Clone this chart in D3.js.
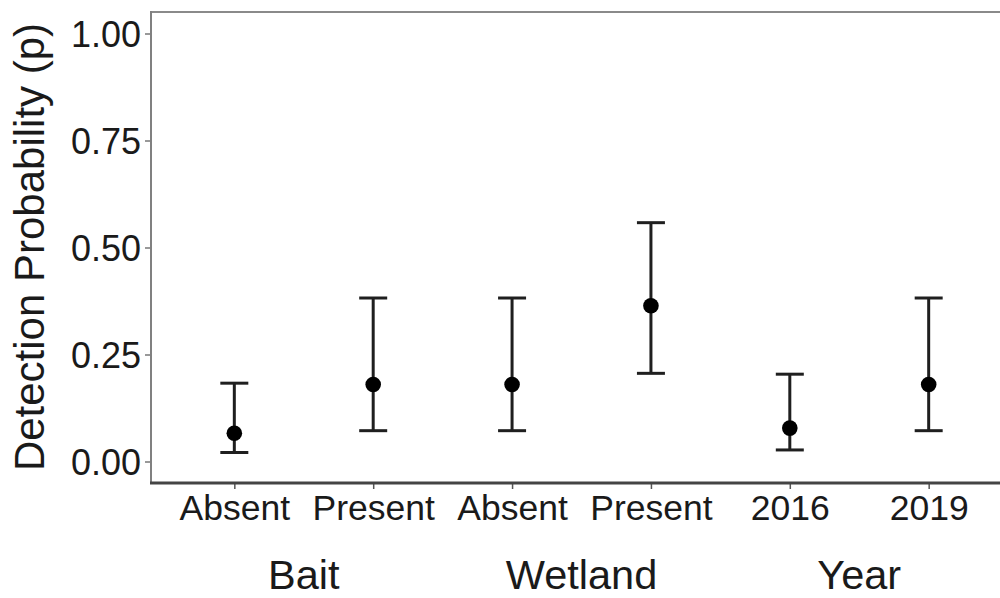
<!DOCTYPE html>
<html>
<head>
<meta charset="utf-8">
<script src="https://cdn.jsdelivr.net/npm/d3@7"></script>
<style>
  body { margin: 0; background: #fff; }
  svg { display: block; font-family: "Liberation Sans", Arial, sans-serif; }
</style>
</head>
<body>
<div id="chart"></div>
<script>
// data
var categories = ["Bait Absent", "Bait Present", "Wetland Absent", "Wetland Present", "Year 2016", "Year 2019"];
var tickLabels = ["Absent", "Present", "Absent", "Present", "2016", "2019"];
var groups = ["Bait", "Wetland", "Year"];
var groupOf = ["Bait", "Bait", "Wetland", "Wetland", "Year", "Year"];
var estimate = [0.066, 0.180, 0.180, 0.364, 0.078, 0.180];
var lower = [0.021, 0.072, 0.072, 0.206, 0.027, 0.072];
var upper = [0.183, 0.382, 0.382, 0.558, 0.204, 0.382];
var yTicks = [0, 0.25, 0.5, 0.75, 1];

var width = 1000, height = 598;
var panel = { left: 151, top: 12, right: 1012, bottom: 483 };

var svg = d3.select('#chart').append('svg')
  .attr('width', width)
  .attr('height', height);

// scales
var x = d3.scalePoint()
  .domain(categories)
  .range([panel.left, panel.right])
  .padding(0.6);

var y = d3.scaleLinear()
  .domain([0, 1])
  .range([461.5, 33.5]);

// panel border (top + left, right one is off the picture)
svg.append('line')
  .attr('x1', panel.left).attr('x2', width)
  .attr('y1', panel.top).attr('y2', panel.top)
  .attr('stroke', '#8a8a8a').attr('stroke-width', 2);

// y axis
var yAxis = svg.append('g')
  .attr('transform', 'translate(' + panel.left + ',0)')
  .call(d3.axisLeft(y).tickValues(yTicks).tickFormat(d3.format('.2f')).tickSize(6).tickPadding(4));
yAxis.select('.domain').remove();
yAxis.selectAll('.tick line').attr('stroke', '#777').attr('stroke-width', 1.5);
yAxis.selectAll('.tick text')
  .attr('fill', '#1a1a1a')
  .style('font-size', '36px')
  .attr('dy', '0.36em');

svg.append('line')
  .attr('x1', panel.left).attr('x2', panel.left)
  .attr('y1', panel.top - 1).attr('y2', panel.bottom)
  .attr('stroke', '#808080').attr('stroke-width', 2);

// x axis
var xAxis = svg.append('g')
  .attr('transform', 'translate(0,' + panel.bottom + ')')
  .call(d3.axisBottom(x).tickFormat(function(d, i) { return tickLabels[i]; }).tickSize(6).tickPadding(6));
xAxis.select('.domain').remove();
xAxis.selectAll('.tick line').attr('stroke', '#555').attr('stroke-width', 1.5);
xAxis.selectAll('.tick text')
  .attr('fill', '#1a1a1a')
  .style('font-size', '35.5px')
  .attr('dy', '0.71em');

svg.append('line')
  .attr('x1', panel.left - 1).attr('x2', width)
  .attr('y1', panel.bottom).attr('y2', panel.bottom)
  .attr('stroke', '#444').attr('stroke-width', 3);

// group labels under each pair
svg.selectAll('.group-label')
  .data(groups)
  .enter()
  .append('text')
  .attr('class', 'group-label')
  .attr('x', function(g) {
    var xs = categories.filter(function(c, i) { return groupOf[i] === g; }).map(x);
    return d3.mean(xs);
  })
  .attr('y', 589)
  .attr('text-anchor', 'middle')
  .attr('fill', '#1a1a1a')
  .style('font-size', '41.5px')
  .text(function(g) { return g; });

// y title
svg.append('text')
  .attr('transform', 'translate(44,' + 247 + ') rotate(-90)')
  .attr('text-anchor', 'middle')
  .attr('fill', '#1a1a1a')
  .style('font-size', '42px')
  .text('Detection Probability (p)');

// error bars
var capW = 14;
var bars = svg.selectAll('.err')
  .data(categories)
  .enter()
  .append('g')
  .attr('class', 'err')
  .attr('stroke', '#1f1f1f')
  .attr('stroke-width', 3);

bars.append('line')
  .attr('x1', function(d) { return x(d); })
  .attr('x2', function(d) { return x(d); })
  .attr('y1', function(d, i) { return y(lower[i]); })
  .attr('y2', function(d, i) { return y(upper[i]); });

bars.append('line')
  .attr('x1', function(d) { return x(d) - capW; })
  .attr('x2', function(d) { return x(d) + capW; })
  .attr('y1', function(d, i) { return y(upper[i]); })
  .attr('y2', function(d, i) { return y(upper[i]); });

bars.append('line')
  .attr('x1', function(d) { return x(d) - capW; })
  .attr('x2', function(d) { return x(d) + capW; })
  .attr('y1', function(d, i) { return y(lower[i]); })
  .attr('y2', function(d, i) { return y(lower[i]); });

// points
svg.selectAll('.pt')
  .data(categories)
  .enter()
  .append('circle')
  .attr('class', 'pt')
  .attr('cx', function(d) { return x(d); })
  .attr('cy', function(d, i) { return y(estimate[i]); })
  .attr('r', 7.8)
  .attr('fill', '#000');
</script>
</body>
</html>
